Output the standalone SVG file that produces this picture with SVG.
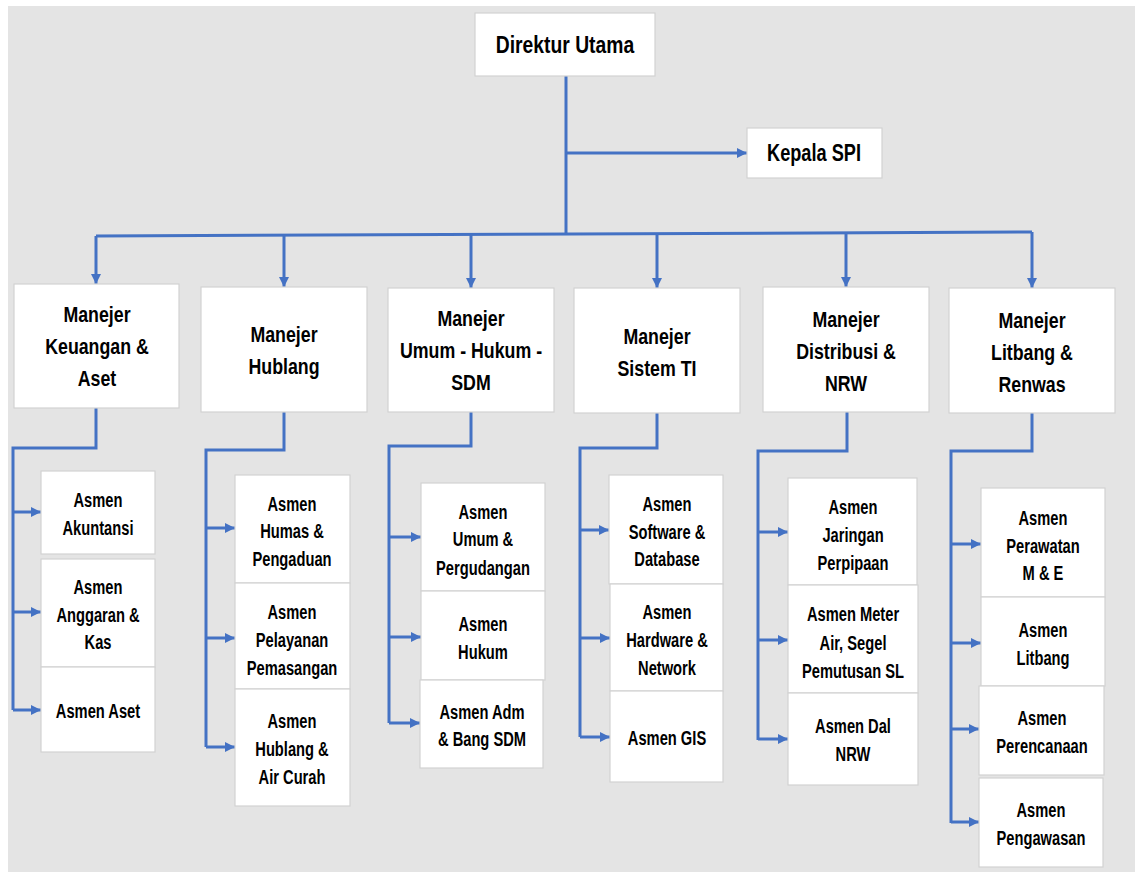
<svg xmlns="http://www.w3.org/2000/svg" width="1135" height="872" viewBox="0 0 1135 872">
<defs>
<style>
.bx{fill:#fff;stroke:#d2d2d2;stroke-width:1.2}
.t{font-family:"Liberation Sans",Arial,sans-serif;font-weight:bold;fill:#000;text-anchor:middle}
.tt{font-size:23px}
.tm{font-size:22.5px}
.ta{font-size:21px}
.ln{fill:none;stroke:#4472c4;stroke-width:3}
.ar{fill:none;stroke:#4472c4;stroke-width:3;marker-end:url(#ah)}
</style>
<marker id="ah" markerUnits="userSpaceOnUse" viewBox="0 0 10 10" refX="10" refY="5" markerWidth="10" markerHeight="10" orient="auto">
<path d="M0,0 L10,5 L0,10 z" fill="#4472c4"/>
</marker>
</defs>
<rect x="0" y="0" width="1135" height="872" fill="#fff"/>
<rect x="8" y="6" width="1127" height="866" fill="#e4e4e4"/>

<g id="connectors">
<path class="ln" d="M566,76 V234"/>
<path class="ar" d="M566,153 H747"/>
<path class="ln" d="M96,236 L1032,232"/>
<path class="ar" d="M96,236 V284"/>
<path class="ar" d="M284,235 V287"/>
<path class="ar" d="M471,235 V288"/>
<path class="ar" d="M657,234 V288"/>
<path class="ar" d="M846,233 V287"/>
<path class="ar" d="M1032,232 V288"/>
<path class="ln" d="M96,408 V448 H13 V710"/>
<path class="ar" d="M13,512 H41"/>
<path class="ar" d="M13,612 H41"/>
<path class="ar" d="M13,710 H41"/>
<path class="ln" d="M284,412 V450 H206 V747"/>
<path class="ar" d="M206,528 H235"/>
<path class="ar" d="M206,638 H235"/>
<path class="ar" d="M206,747 H235"/>
<path class="ln" d="M471,412 V446 H389 V723"/>
<path class="ar" d="M389,537 H421"/>
<path class="ar" d="M389,637 H421"/>
<path class="ar" d="M389,723 H420"/>
<path class="ln" d="M657,413 V448 H580 V737"/>
<path class="ar" d="M580,530 H609"/>
<path class="ar" d="M580,638 H610"/>
<path class="ar" d="M580,737 H610"/>
<path class="ln" d="M847,412 V451 H758 V740"/>
<path class="ar" d="M758,532 H788"/>
<path class="ar" d="M758,640 H788"/>
<path class="ar" d="M758,739 H788"/>
<path class="ln" d="M1032,413 V451 H951 V823"/>
<path class="ar" d="M951,544 H981"/>
<path class="ar" d="M951,643 H981"/>
<path class="ar" d="M951,729 H979"/>
<path class="ar" d="M951,822 H979"/>
</g>

<g id="direktur">
<rect class="bx" x="475" y="13" width="180" height="63"/>
<g transform="translate(565,0) scale(0.84,1)"><text class="t tt" x="0" y="53">Direktur Utama</text></g>
</g>
<g id="spi">
<rect class="bx" x="747" y="128" width="135" height="50"/>
<g transform="translate(814,0) scale(0.79,1)"><text class="t tt" x="0" y="161">Kepala SPI</text></g>
</g>

<g id="m-keuangan">
<rect class="bx" x="14" y="284" width="165" height="124"/>
<g transform="translate(97,0) scale(0.79,1)" class="t tm"><text x="0" y="322">Manejer</text><text x="0" y="354">Keuangan &amp;</text><text x="0" y="386">Aset</text></g>
</g>
<g id="m-hublang">
<rect class="bx" x="201" y="287" width="166" height="125"/>
<g transform="translate(284,0) scale(0.79,1)" class="t tm"><text x="0" y="342">Manejer</text><text x="0" y="374">Hublang</text></g>
</g>
<g id="m-umum">
<rect class="bx" x="388" y="288" width="166" height="124"/>
<g transform="translate(471,0) scale(0.79,1)" class="t tm"><text x="0" y="326">Manejer</text><text x="0" y="358">Umum - Hukum -</text><text x="0" y="390">SDM</text></g>
</g>
<g id="m-sistem">
<rect class="bx" x="574" y="288" width="166" height="125"/>
<g transform="translate(657,0) scale(0.79,1)" class="t tm"><text x="0" y="344">Manejer</text><text x="0" y="376">Sistem TI</text></g>
</g>
<g id="m-distribusi">
<rect class="bx" x="763" y="287" width="166" height="125"/>
<g transform="translate(846,0) scale(0.79,1)" class="t tm"><text x="0" y="327">Manejer</text><text x="0" y="359">Distribusi &amp;</text><text x="0" y="391">NRW</text></g>
</g>
<g id="m-litbang">
<rect class="bx" x="949" y="288" width="166" height="125"/>
<g transform="translate(1032,0) scale(0.79,1)" class="t tm"><text x="0" y="328">Manejer</text><text x="0" y="360">Litbang &amp;</text><text x="0" y="392">Renwas</text></g>
</g>

<g id="a-akuntansi">
<rect class="bx" x="41" y="471" width="114" height="83"/>
<g transform="translate(98,0) scale(0.7,1)" class="t ta"><text x="0" y="507">Asmen</text><text x="0" y="535">Akuntansi</text></g>
</g>
<g id="a-anggaran">
<rect class="bx" x="41" y="559" width="114" height="108"/>
<g transform="translate(98,0) scale(0.7,1)" class="t ta"><text x="0" y="594">Asmen</text><text x="0" y="622">Anggaran  &amp;</text><text x="0" y="649">Kas</text></g>
</g>
<g id="a-aset">
<rect class="bx" x="41" y="667" width="114" height="85"/>
<g transform="translate(98,0) scale(0.7,1)" class="t ta"><text x="0" y="718">Asmen Aset</text></g>
</g>

<g id="a-humas">
<rect class="bx" x="235" y="475" width="115" height="108"/>
<g transform="translate(292,0) scale(0.7,1)" class="t ta"><text x="0" y="511">Asmen</text><text x="0" y="538">Humas &amp;</text><text x="0" y="566">Pengaduan</text></g>
</g>
<g id="a-pelayanan">
<rect class="bx" x="235" y="583" width="115" height="106"/>
<g transform="translate(292,0) scale(0.7,1)" class="t ta"><text x="0" y="619">Asmen</text><text x="0" y="647">Pelayanan</text><text x="0" y="675">Pemasangan</text></g>
</g>
<g id="a-aircurah">
<rect class="bx" x="235" y="689" width="115" height="117"/>
<g transform="translate(292,0) scale(0.7,1)" class="t ta"><text x="0" y="728">Asmen</text><text x="0" y="756">Hublang &amp;</text><text x="0" y="784">Air Curah</text></g>
</g>

<g id="a-umum">
<rect class="bx" x="421" y="483" width="124" height="108"/>
<g transform="translate(483,0) scale(0.7,1)" class="t ta"><text x="0" y="519">Asmen</text><text x="0" y="546">Umum &amp;</text><text x="0" y="575">Pergudangan</text></g>
</g>
<g id="a-hukum">
<rect class="bx" x="421" y="591" width="124" height="89"/>
<g transform="translate(483,0) scale(0.7,1)" class="t ta"><text x="0" y="631">Asmen</text><text x="0" y="659">Hukum</text></g>
</g>
<g id="a-adm">
<rect class="bx" x="420" y="680" width="123" height="88"/>
<g transform="translate(482,0) scale(0.7,1)" class="t ta"><text x="0" y="719">Asmen Adm</text><text x="0" y="746">&amp; Bang SDM</text></g>
</g>

<g id="a-software">
<rect class="bx" x="609" y="475" width="114" height="109"/>
<g transform="translate(667,0) scale(0.7,1)" class="t ta"><text x="0" y="511">Asmen</text><text x="0" y="539">Software &amp;</text><text x="0" y="566">Database</text></g>
</g>
<g id="a-hardware">
<rect class="bx" x="610" y="584" width="113" height="107"/>
<g transform="translate(667,0) scale(0.7,1)" class="t ta"><text x="0" y="619">Asmen</text><text x="0" y="647">Hardware &amp;</text><text x="0" y="675">Network</text></g>
</g>
<g id="a-gis">
<rect class="bx" x="610" y="691" width="113" height="91"/>
<g transform="translate(667,0) scale(0.7,1)" class="t ta"><text x="0" y="745">Asmen GIS</text></g>
</g>

<g id="a-jaringan">
<rect class="bx" x="788" y="478" width="129" height="107"/>
<g transform="translate(853,0) scale(0.7,1)" class="t ta"><text x="0" y="514">Asmen</text><text x="0" y="542">Jaringan</text><text x="0" y="570">Perpipaan</text></g>
</g>
<g id="a-meter">
<rect class="bx" x="788" y="585" width="130" height="108"/>
<g transform="translate(853,0) scale(0.7,1)" class="t ta"><text x="0" y="621">Asmen Meter</text><text x="0" y="650">Air, Segel</text><text x="0" y="678">Pemutusan SL</text></g>
</g>
<g id="a-dal">
<rect class="bx" x="788" y="693" width="130" height="92"/>
<g transform="translate(853,0) scale(0.7,1)" class="t ta"><text x="0" y="733">Asmen Dal</text><text x="0" y="761">NRW</text></g>
</g>

<g id="a-perawatan">
<rect class="bx" x="981" y="488" width="124" height="109"/>
<g transform="translate(1043,0) scale(0.7,1)" class="t ta"><text x="0" y="525">Asmen</text><text x="0" y="553">Perawatan</text><text x="0" y="580">M &amp; E</text></g>
</g>
<g id="a-litbang">
<rect class="bx" x="981" y="597" width="124" height="89"/>
<g transform="translate(1043,0) scale(0.7,1)" class="t ta"><text x="0" y="637">Asmen</text><text x="0" y="665">Litbang</text></g>
</g>
<g id="a-perencanaan">
<rect class="bx" x="979" y="686" width="125" height="89"/>
<g transform="translate(1042,0) scale(0.7,1)" class="t ta"><text x="0" y="725">Asmen</text><text x="0" y="753">Perencanaan</text></g>
</g>
<g id="a-pengawasan">
<rect class="bx" x="979" y="778" width="124" height="89"/>
<g transform="translate(1041,0) scale(0.7,1)" class="t ta"><text x="0" y="817">Asmen</text><text x="0" y="845">Pengawasan</text></g>
</g>
</svg>
